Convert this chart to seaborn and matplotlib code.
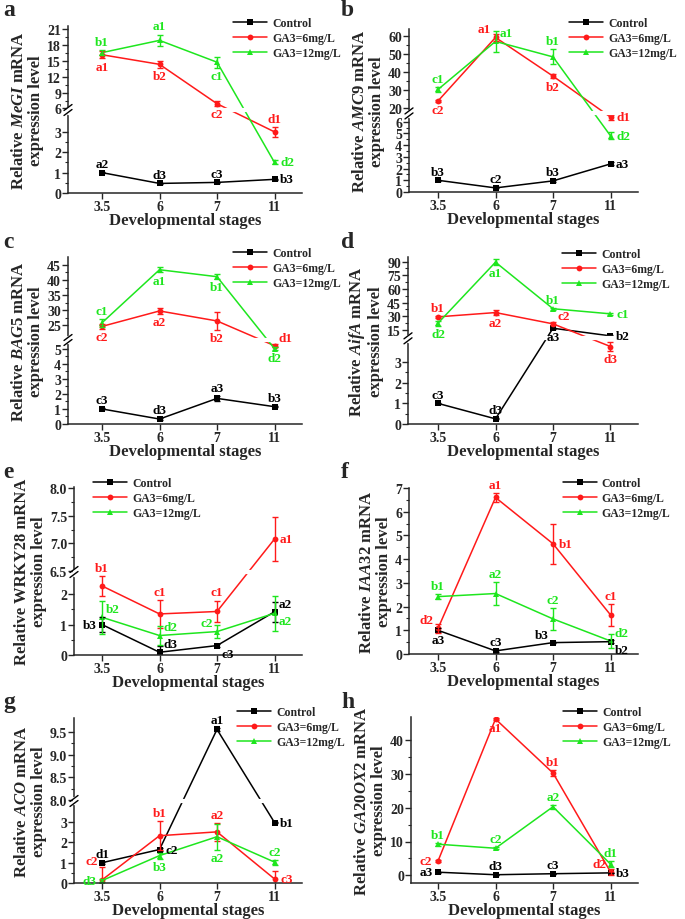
import numpy as np
import pandas as pd
import seaborn as sns
import matplotlib.pyplot as plt

# ---- data ----
stages = ["3.5", "6", "7", "11"]
groups = ["Control", "GA3=6mg/L", "GA3=12mg/L"]

megi_ctrl = [1.00, 0.47, 0.52, 0.67]; megi_ctrl_sd = [0.03, 0.03, 0.03, 0.04]
megi_ga6 = [16.1, 14.3, 6.9, 3.0]; megi_ga6_sd = [0.7, 0.7, 0.45, 0.25]
megi_ga12 = [16.5, 18.8, 14.7, 1.5]; megi_ga12_sd = [0.5, 1.1, 1.0, 0.1]
megi_sig = [["a2", "d3", "c3", "b3"], ["a1", "b2", "c2", "d1"], ["b1", "a1", "c1", "d2"]]

amc9_ctrl = [1.0, 0.35, 0.95, 2.4]; amc9_ctrl_sd = [0.05, 0.05, 0.08, 0.12]
amc9_ga6 = [23.7, 59.0, 37.5, 6.4]; amc9_ga6_sd = [0.8, 2.0, 1.3, 0.25]
amc9_ga12 = [30.1, 56.8, 48.2, 4.8]; amc9_ga12_sd = [1.3, 6.0, 4.2, 0.3]
amc9_sig = [["b3", "c2", "b3", "a3"], ["c2", "a1", "b2", "d1"], ["c1", "a1", "b1", "d2"]]

bag5_ctrl = [1.0, 0.33, 1.7, 1.15]; bag5_ctrl_sd = [0.03, 0.04, 0.18, 0.05]
bag5_ga6 = [24.7, 29.8, 26.5, 5.2]; bag5_ga6_sd = [0.8, 1.0, 3.0, 0.08]
bag5_ga12 = [25.9, 43.4, 41.1, 5.0]; bag5_ga12_sd = [1.3, 0.9, 0.8, 0.1]
bag5_sig = [["c3", "d3", "a3", "b3"], ["c2", "a2", "b2", "d1"], ["c1", "a1", "b1", "d2"]]

aifa_ctrl = [1.0, 0.25, 16.8, 8.4]; aifa_ctrl_sd = [0.02, 0.02, 0.6, 0.5]
aifa_ga6 = [29.3, 34.0, 21.6, 3.76]; aifa_ga6_sd = [1.0, 3.0, 1.5, 0.2]
aifa_ga12 = [22.4, 89.3, 38.2, 32.6]; aifa_ga12_sd = [2.8, 3.0, 1.2, 1.2]
aifa_sig = [["c3", "d3", "a3", "b2"], ["b1", "a2", "c2", "d3"], ["d2", "a1", "b1", "c1"]]

wrky_ctrl = [1.0, 0.09, 0.31, 1.42]; wrky_ctrl_sd = [0.25, 0.2, 0.05, 0.33]
wrky_ga6 = [2.27, 1.35, 1.43, 7.08]; wrky_ga6_sd = [0.33, 0.45, 0.36, 0.39]
wrky_ga12 = [1.24, 0.64, 0.77, 1.37]; wrky_ga12_sd = [0.55, 0.3, 0.2, 0.57]
wrky_sig = [["b3", "d3", "c3", "a2"], ["b1", "c1", "c1", "a1"], ["b2", "d2", "c2", "a2"]]

iaa_ctrl = [1.0, 0.13, 0.48, 0.52]; iaa_ctrl_sd = [0.08, 0.03, 0.03, 0.05]
iaa_ga6 = [1.08, 6.6, 4.65, 1.65]; iaa_ga6_sd = [0.18, 0.2, 0.85, 0.45]
iaa_ga12 = [2.42, 2.55, 1.48, 0.55]; iaa_ga12_sd = [0.12, 0.47, 0.45, 0.3]
iaa_sig = [["a3", "c3", "b3", "b2"], ["d2", "a1", "b1", "c1"], ["b1", "a2", "c2", "d2"]]

aco_ctrl = [1.0, 1.65, 9.55, 2.98]; aco_ctrl_sd = [0.04, 0.05, 0.03, 0.04]
aco_ga6 = [0.15, 2.33, 2.52, 0.2]; aco_ga6_sd = [0.62, 0.72, 0.45, 0.38]
aco_ga12 = [0.12, 1.35, 2.28, 1.03]; aco_ga12_sd = [0.06, 0.15, 0.65, 0.12]
aco_sig = [["d1", "c2", "a1", "b1"], ["c2", "b1", "a2", "c3"], ["d3", "b3", "a2", "c2"]]

ga20_ctrl = [0.9, 0.15, 0.45, 0.7]; ga20_ctrl_sd = [0.1, 0.05, 0.05, 0.1]
ga20_ga6 = [4.2, 46.3, 30.3, 1.0]; ga20_ga6_sd = [0.3, 0.3, 0.8, 0.8]
ga20_ga12 = [9.2, 8.0, 20.3, 3.3]; ga20_ga12_sd = [0.4, 0.3, 0.6, 1.0]
ga20_sig = [["a3", "d3", "c3", "b3"], ["c2", "a1", "b1", "d2"], ["b1", "c2", "a2", "d1"]]

# ---- style ----
sns.set_style("ticks")
plt.rcParams["font.family"] = ["Liberation Serif", "DejaVu Serif"]
plt.rcParams["font.weight"] = "bold"
plt.rcParams["axes.labelweight"] = "bold"
plt.rcParams["mathtext.fontset"] = "custom"
plt.rcParams["mathtext.it"] = "Liberation Serif:italic:bold"
plt.rcParams["mathtext.rm"] = "Liberation Serif:bold"
plt.rcParams["mathtext.bf"] = "Liberation Serif:bold"

colors = ["#000000", "#ff1a1a", "#1ee61e"]
markers = dict(zip(groups, ["s", "o", "^"]))

# label offsets: (anchor at y / y+sd / y-sd, dx, dy, ha, va)
OFFS = {
    "n": ("top", 0, 1.5, "center", "bottom"),
    "s": ("bot", 0, -1.5, "center", "top"),
    "e": ("mid", 4, 0, "left", "center"),
    "w": ("mid", -4, 0, "right", "center"),
    "ne": ("mid", 3, 1.5, "left", "bottom"),
    "nw": ("mid", -3, 1.5, "right", "bottom"),
    "se": ("mid", 3, -1.5, "left", "top"),
    "NW": ("top", -3, 0, "right", "bottom"),
}


def piecewise(src, dst):
    src = np.asarray(src, float)
    dst = np.asarray(dst, float)
    s0 = (dst[1] - dst[0]) / (src[1] - src[0])
    s1 = (dst[-1] - dst[-2]) / (src[-1] - src[-2])

    def f(v):
        v = np.asarray(v, float)
        out = np.interp(v, src, dst)
        out = np.where(v < src[0], dst[0] + (v - src[0]) * s0, out)
        out = np.where(v > src[-1], dst[-1] + (v - src[-1]) * s1, out)
        return out
    return f


panels = [
    dict(tag="a", gene="MeGI", it=True, series=(megi_ctrl, megi_ga6, megi_ga12),
         sd=(megi_ctrl_sd, megi_ga6_sd, megi_ga12_sd), sig=megi_sig,
         pos=[["n", "n", "n", "e"], ["s", "s", "s", "n"], ["n", "n", "s", "e"]],
         brk=([0, 4, 6, 21.5], [0, 0.488, 0.506, 1.0]),
         ticks=[0, 1, 2, 3, 6, 9, 12, 15, 18, 21], tl=None,
         px=(68, 27, 302, 194), leg=(0.705, 1.054)),
    dict(tag="b", gene="AMC9", it=True, series=(amc9_ctrl, amc9_ga6, amc9_ga12),
         sd=(amc9_ctrl_sd, amc9_ga6_sd, amc9_ga12_sd), sig=amc9_sig,
         pos=[["n", "n", "n", "e"], ["s", "nw", "s", "e"], ["n", "ne", "n", "e"]],
         brk=([0, 6.6, 17.5, 63.7], [0, 0.474, 0.49, 1.0]),
         ticks=[0, 1, 2, 3, 4, 5, 6, 20, 30, 40, 50, 60], tl=None,
         px=(409, 30, 638, 193), leg=(0.699, 1.074)),
    dict(tag="c", gene="BAG5", it=True, series=(bag5_ctrl, bag5_ga6, bag5_ga12),
         sd=(bag5_ctrl_sd, bag5_ga6_sd, bag5_ga12_sd), sig=bag5_sig,
         pos=[["n", "n", "n", "n"], ["s", "s", "s", "ne"], ["n", "s", "s", "s"]],
         brk=([0, 5.5, 20.6, 47.6], [0, 0.496, 0.51, 1.0]),
         ticks=[0, 1, 2, 3, 4, 5, 25, 30, 35, 40, 45], tl=None,
         px=(68, 258, 302, 425), leg=(0.705, 1.06)),
    dict(tag="d", gene="AifA", it=True, series=(aifa_ctrl, aifa_ga6, aifa_ga12),
         sd=(aifa_ctrl_sd, aifa_ga6_sd, aifa_ga12_sd), sig=aifa_sig,
         pos=[["n", "n", "s", "e"], ["n", "s", "ne", "s"], ["s", "s", "n", "e"]],
         brk=([0, 4.1, 7, 95], [0, 0.506, 0.52, 1.0]),
         ticks=[0, 1, 2, 3, 15, 30, 45, 60, 75, 90], tl=None,
         px=(408, 258, 638, 425), leg=(0.67, 1.054)),
    dict(tag="e", gene="WRKY28", it=False, series=(wrky_ctrl, wrky_ga6, wrky_ga12),
         sd=(wrky_ctrl_sd, wrky_ga6_sd, wrky_ga12_sd), sig=wrky_sig,
         pos=[["w", "ne", "se", "ne"], ["n", "n", "n", "e"], ["ne", "ne", "nw", "se"]],
         brk=([0, 2.7, 6.5, 8.02], [0, 0.489, 0.499, 1.0]),
         ticks=[0, 1, 2, 6.5, 7.0, 7.5, 8.0],
         tl=["0", "1", "2", "6.5", "7.0", "7.5", "8.0"],
         px=(74, 488, 302, 656), leg=(0.083, 1.06)),
    dict(tag="f", gene="IAA32", it=True, series=(iaa_ctrl, iaa_ga6, iaa_ga12),
         sd=(iaa_ctrl_sd, iaa_ga6_sd, iaa_ga12_sd), sig=iaa_sig,
         pos=[["s", "n", "nw", "se"], ["nw", "n", "e", "n"], ["n", "n", "n", "ne"]],
         brk=None, ylim=(0, 7), ticks=[0, 1, 2, 3, 4, 5, 6, 7], tl=None,
         px=(409, 489, 638, 655), leg=(0.672, 1.066)),
    dict(tag="g", gene="ACO", it=True, series=(aco_ctrl, aco_ga6, aco_ga12),
         sd=(aco_ctrl_sd, aco_ga6_sd, aco_ga12_sd), sig=aco_sig,
         pos=[["n", "e", "n", "e"], ["NW", "n", "n", "e"], ["w", "s", "s", "n"]],
         brk=([0, 4.0, 8.0, 9.8], [0, 0.492, 0.502, 1.0]),
         ticks=[0, 1, 2, 3, 8.0, 8.5, 9.0, 9.5],
         tl=["0", "1", "2", "3", "8.0", "8.5", "9.0", "9.5"],
         px=(74, 719, 302, 884), leg=(0.715, 1.072)),
    dict(tag="h", gene="GA20OX2", it=True, series=(ga20_ctrl, ga20_ga6, ga20_ga12),
         sd=(ga20_ctrl_sd, ga20_ga6_sd, ga20_ga12_sd), sig=ga20_sig,
         pos=[["w", "n", "n", "e"], ["w", "s", "n", "nw"], ["n", "n", "n", "n"]],
         brk=None, ylim=(-2.3, 46.9), ticks=[0, 10, 20, 30, 40], tl=None,
         px=(411, 718, 638, 884), leg=(0.67, 1.066)),
]

W, H = 685, 920
fig = plt.figure(figsize=(W / 100, H / 100), dpi=100)

for p in panels:
    l, t, r, b = p["px"]
    ax = fig.add_axes([l / W, 1 - b / H, (r - l) / W, (b - t) / H])
    tick0 = 102 if l < 300 else 438
    step = 57.5
    ax.set_xlim((l - tick0) / step, 3 + (r - (tick0 + 3 * step)) / step)

    df = pd.DataFrame({
        "stage": np.tile(np.arange(4), 3),
        "level": np.concatenate(p["series"]),
        "group": np.repeat(groups, 4),
    })
    sns.lineplot(data=df, x="stage", y="level", hue="group", style="group",
                 hue_order=groups, style_order=groups, palette=colors,
                 markers=markers, dashes=False, markersize=4.2, linewidth=1.1,
                 markeredgewidth=0, sort=False, ax=ax)

    if p["brk"] is not None:
        fwd = piecewise(*p["brk"])
        inv = piecewise(p["brk"][1], p["brk"][0])
        ax.set_yscale("function", functions=(fwd, inv))
        ax.set_ylim(0, p["brk"][0][-1])
    else:
        ax.set_ylim(*p["ylim"])

    for vals, sds, c in zip(p["series"], p["sd"], colors):
        ax.errorbar(np.arange(4), vals, yerr=sds, fmt="none", ecolor=c,
                    elinewidth=1.0, capsize=2.2, capthick=1.0, zorder=2.2)

    # significance letters
    for vals, sds, sig, pos, c in zip(p["series"], p["sd"], p["sig"], p["pos"], colors):
        for i in range(4):
            anc, dx, dy, ha, va = OFFS[pos[i]]
            yy = vals[i] + sds[i] if anc == "top" else (vals[i] - sds[i] if anc == "bot" else vals[i])
            ax.annotate(sig[i], (i, yy), xytext=(dx, dy), textcoords="offset points",
                        ha=ha, va=va, color=c, fontsize=9.5, fontweight="bold",
                        zorder=5)

    ticks = p["ticks"]
    labels = p["tl"] if p["tl"] else [f"{v:g}" for v in ticks]
    ax.set_yticks(ticks, labels=labels)
    if p["brk"] is not None:
        lo = [v for v in ticks if v <= p["brk"][0][1]]
        hi = [v for v in ticks if v >= p["brk"][0][2]]
        minors = [(u + v) / 2 for seg in (lo, hi) for u, v in zip(seg[:-1], seg[1:])]
    else:
        minors = [(u + v) / 2 for u, v in zip(ticks[:-1], ticks[1:])]
    ax.set_yticks(minors, minor=True)
    ax.set_xticks(range(4), labels=stages)

    ax.tick_params(which="major", direction="out", length=4, width=1,
                   labelsize=10, pad=1)
    ax.tick_params(which="minor", direction="out", length=2, width=0.8)
    sns.despine(ax=ax)
    for s in ("left", "bottom"):
        ax.spines[s].set_linewidth(1.1)

    # broken-axis marks
    if p["brk"] is not None:
        xs, fr = p["brk"]
        yb = (fr[1] + fr[2]) / 2
        ymid = (xs[1] + xs[2]) / 2
        ax.plot([0.01, 1], [ymid, ymid], transform=ax.get_yaxis_transform(),
                color="white", lw=3, zorder=2.6, solid_capstyle="butt")
        hpx = b - t
        wpx = r - l
        gap = 2.5 / hpx
        ax.plot([0, 0], [yb - gap, yb + gap], transform=ax.transAxes,
                color="white", lw=2.5, clip_on=False, zorder=3)
        for off in (-gap, gap):
            ax.plot([-4 / wpx, 4 / wpx], [yb + off - 3 / hpx, yb + off + 3 / hpx],
                    transform=ax.transAxes, color="black", lw=1, clip_on=False,
                    zorder=4)

    gene = p["gene"] if not p["it"] else f"$\\mathit{{{p['gene']}}}$"
    ax.set_ylabel(f"Relative {gene} mRNA\nexpression level", fontsize=12,
                  labelpad=2, linespacing=1.1)
    ax.set_xlabel("Developmental stages", fontsize=12, labelpad=-1)

    sns.move_legend(ax, "upper left", bbox_to_anchor=p["leg"], frameon=False,
                    title=None, fontsize=8.5, handlelength=2.9,
                    handletextpad=0.4, labelspacing=0.25, borderaxespad=0,
                    borderpad=0)

    fx = 3 if l < 300 else 341
    fy = {27: 16, 30: 16, 258: 248, 488: 478, 489: 478, 719: 708, 718: 708}[t]
    fig.text(fx / W, 1 - fy / H, p["tag"], fontsize=17, fontweight="bold",
             va="baseline", ha="left")

fig.savefig("out.png", dpi=100)
